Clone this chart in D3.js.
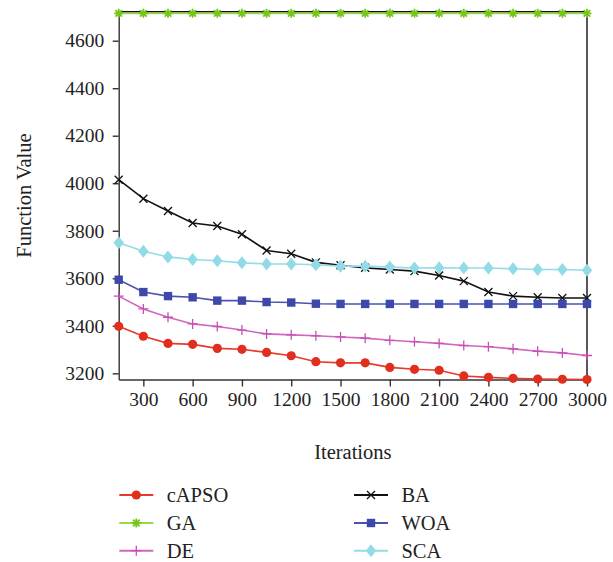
<!DOCTYPE html>
<html>
<head>
<meta charset="utf-8">
<script src="https://cdn.jsdelivr.net/npm/d3@7"></script>
<style>
  html, body { margin: 0; padding: 0; background: #fff; }
  #chart { width: 613px; height: 562px; }
  text { font-family: "Liberation Serif", "Times New Roman", serif; fill: #222; }
</style>
</head>
<body>
<div id="chart"></div>
<script>
// iterations sampled every 150
const iterations = [150, 300, 450, 600, 750, 900, 1050, 1200, 1350, 1500,
  1650, 1800, 1950, 2100, 2250, 2400, 2550, 2700, 2850, 3000];

const capso = [3398, 3356, 3326, 3322, 3305, 3301, 3288, 3274, 3249, 3244,
  3244, 3225, 3217, 3213, 3189, 3183, 3179, 3176, 3175, 3174];
const ga = [4715, 4715, 4715, 4715, 4715, 4715, 4715, 4715, 4715, 4715,
  4715, 4715, 4715, 4715, 4715, 4715, 4715, 4715, 4715, 4715];
const de = [3525, 3471, 3436, 3408, 3397, 3382, 3366, 3362, 3358, 3353,
  3348, 3339, 3333, 3326, 3317, 3312, 3303, 3293, 3286, 3275];
const ba = [4015, 3935, 3883, 3833, 3820, 3785, 3717, 3703, 3667, 3655,
  3644, 3637, 3630, 3612, 3588, 3542, 3525, 3520, 3517, 3517];
const woa = [3594, 3542, 3525, 3520, 3506, 3506, 3500, 3498, 3493, 3492,
  3492, 3492, 3492, 3492, 3492, 3492, 3492, 3492, 3492, 3492];
const sca = [3750, 3714, 3690, 3679, 3674, 3665, 3660, 3660, 3657, 3651,
  3651, 3647, 3643, 3644, 3643, 3643, 3640, 3637, 3637, 3634];

const xTicks = [300, 600, 900, 1200, 1500, 1800, 2100, 2400, 2700, 3000];
const yTicks = [3200, 3400, 3600, 3800, 4000, 4200, 4400, 4600];

const seriesNames = ['cAPSO', 'GA', 'DE', 'BA', 'WOA', 'SCA'];
const seriesValues = [capso, ga, de, ba, woa, sca];

(function () {
  const styles = {
    cAPSO: { line: '#e8392a', fill: '#e02e1f', marker: 'circle' },
    GA: { line: '#9ad944', fill: '#76c51a', marker: 'asterisk' },
    DE: { line: '#d066c0', fill: '#c84fb6', marker: 'plus' },
    BA: { line: '#111111', fill: '#111111', marker: 'cross' },
    WOA: { line: '#4a54b0', fill: '#3e48a8', marker: 'square' },
    SCA: { line: '#92dce8', fill: '#90dbe6', marker: 'diamond' },
  };

  const W = 613;
  const H = 562;
  const margin = { top: 11.7, right: 26, bottom: 182.5, left: 118.7 };
  const w = W - margin.left - margin.right;
  const h = H - margin.top - margin.bottom;

  const svg = d3.select('#chart').append('svg')
    .attr('width', W)
    .attr('height', H)
    .attr('viewBox', `0 0 ${W} ${H}`);

  const g = svg.append('g').attr('transform', `translate(${margin.left},${margin.top})`);

  const x = d3.scaleLinear().domain([150, 3000]).range([0, w]);
  const y = d3.scaleLinear().domain([3174, 4722]).range([h, 0]);

  function markerPath(type) {
    const p = d3.path();
    if (type === 'circle') {
      p.arc(0, 0, 4.6, 0, Math.PI * 2);
    } else if (type === 'square') {
      p.rect(-4.2, -4.2, 8.4, 8.4);
    } else if (type === 'diamond') {
      p.moveTo(0, -6.5); p.lineTo(5.2, 0); p.lineTo(0, 6.5); p.lineTo(-5.2, 0); p.closePath();
    } else if (type === 'plus') {
      p.moveTo(-5, 0); p.lineTo(5, 0); p.moveTo(0, -5); p.lineTo(0, 5);
    } else if (type === 'cross') {
      p.moveTo(-4, -4); p.lineTo(4, 4); p.moveTo(-4, 4); p.lineTo(4, -4);
    } else if (type === 'asterisk') {
      p.moveTo(-4.5, 0); p.lineTo(4.5, 0); p.moveTo(0, -4.5); p.lineTo(0, 4.5);
      p.moveTo(-3.3, -3.3); p.lineTo(3.3, 3.3); p.moveTo(-3.3, 3.3); p.lineTo(3.3, -3.3);
    }
    return p.toString();
  }

  const filled = t => t === 'circle' || t === 'square' || t === 'diamond';

  function drawMarker(sel, st) {
    sel.attr('d', markerPath(st.marker))
      .attr('fill', filled(st.marker) ? st.fill : 'none')
      .attr('stroke', filled(st.marker) ? 'none' : st.fill)
      .attr('stroke-width', st.marker === 'asterisk' ? 1.8 : 1.3);
  }

  // axes
  g.append('g')
    .attr('transform', `translate(0,${h})`)
    .call(d3.axisBottom(x).tickValues(xTicks).tickSize(7).tickSizeOuter(0).tickFormat(d3.format('d')))
    .call(g => g.select('.domain').attr('stroke', '#333').attr('stroke-width', 1.4))
    .call(g => g.selectAll('.tick line').attr('stroke', '#333').attr('stroke-width', 1.4))
    .selectAll('text')
    .attr('y', 26)
    .attr('dy', 0)
    .style('font-family', '"Liberation Serif", serif')
    .style('font-size', '19.5px')
    .style('fill', '#222');

  g.append('g')
    .call(d3.axisLeft(y).tickValues(yTicks).tickSize(6).tickSizeOuter(0).tickFormat(d3.format('d')))
    .call(g => g.select('.domain').attr('stroke', '#333').attr('stroke-width', 1.4))
    .call(g => g.selectAll('.tick line').attr('stroke', '#333').attr('stroke-width', 1.4))
    .selectAll('text')
    .attr('x', -14.5)
    .attr('dy', '0.32em')
    .style('font-family', '"Liberation Serif", serif')
    .style('font-size', '19.5px')
    .style('fill', '#222');

  // top and right frame
  g.append('line')
    .attr('x1', 0).attr('x2', w).attr('y1', 0).attr('y2', 0)
    .attr('stroke', '#111').attr('stroke-width', 1.4);
  g.append('line')
    .attr('x1', w).attr('x2', w).attr('y1', 0).attr('y2', h)
    .attr('stroke', '#111').attr('stroke-width', 1.4);

  const line = d3.line()
    .x((d, i) => x(iterations[i]))
    .y(d => y(d));

  seriesNames.forEach((name, k) => {
    const st = styles[name];
    const vals = seriesValues[k];
    g.append('path')
      .datum(vals)
      .attr('d', line)
      .attr('fill', 'none')
      .attr('stroke', st.line)
      .attr('stroke-width', 1.6);

    g.selectAll(`.m-${name}`)
      .data(vals)
      .join('path')
      .attr('class', `m-${name}`)
      .attr('transform', (d, i) => `translate(${x(iterations[i])},${y(d)})`)
      .call(drawMarker, st);
  });

  // axis titles
  svg.append('text')
    .attr('x', margin.left + w / 2)
    .attr('y', 459)
    .attr('text-anchor', 'middle')
    .attr('font-size', '20.5px')
    .text('Iterations');

  svg.append('text')
    .attr('transform', `translate(31,${margin.top + h / 2}) rotate(-90)`)
    .attr('text-anchor', 'middle')
    .attr('font-size', '20.5px')
    .text('Function Value');

  // legend, two columns of three
  const legend = svg.append('g');
  const rowY = [495, 523, 550.7];
  const colX = [119.3, 354];

  seriesNames.forEach((name, k) => {
    const st = styles[name];
    const lx = colX[Math.floor(k / 3)];
    const ly = rowY[k % 3];
    const item = legend.append('g').attr('transform', `translate(${lx},${ly})`);
    item.append('line')
      .attr('x1', 0).attr('x2', 34)
      .attr('stroke', st.line)
      .attr('stroke-width', 2);
    item.append('path')
      .attr('transform', 'translate(17,0)')
      .call(drawMarker, st);
    item.append('text')
      .attr('x', 47.4)
      .attr('y', 7)
      .attr('font-size', '20.5px')
      .text(name);
  });
})();
</script>
</body>
</html>
